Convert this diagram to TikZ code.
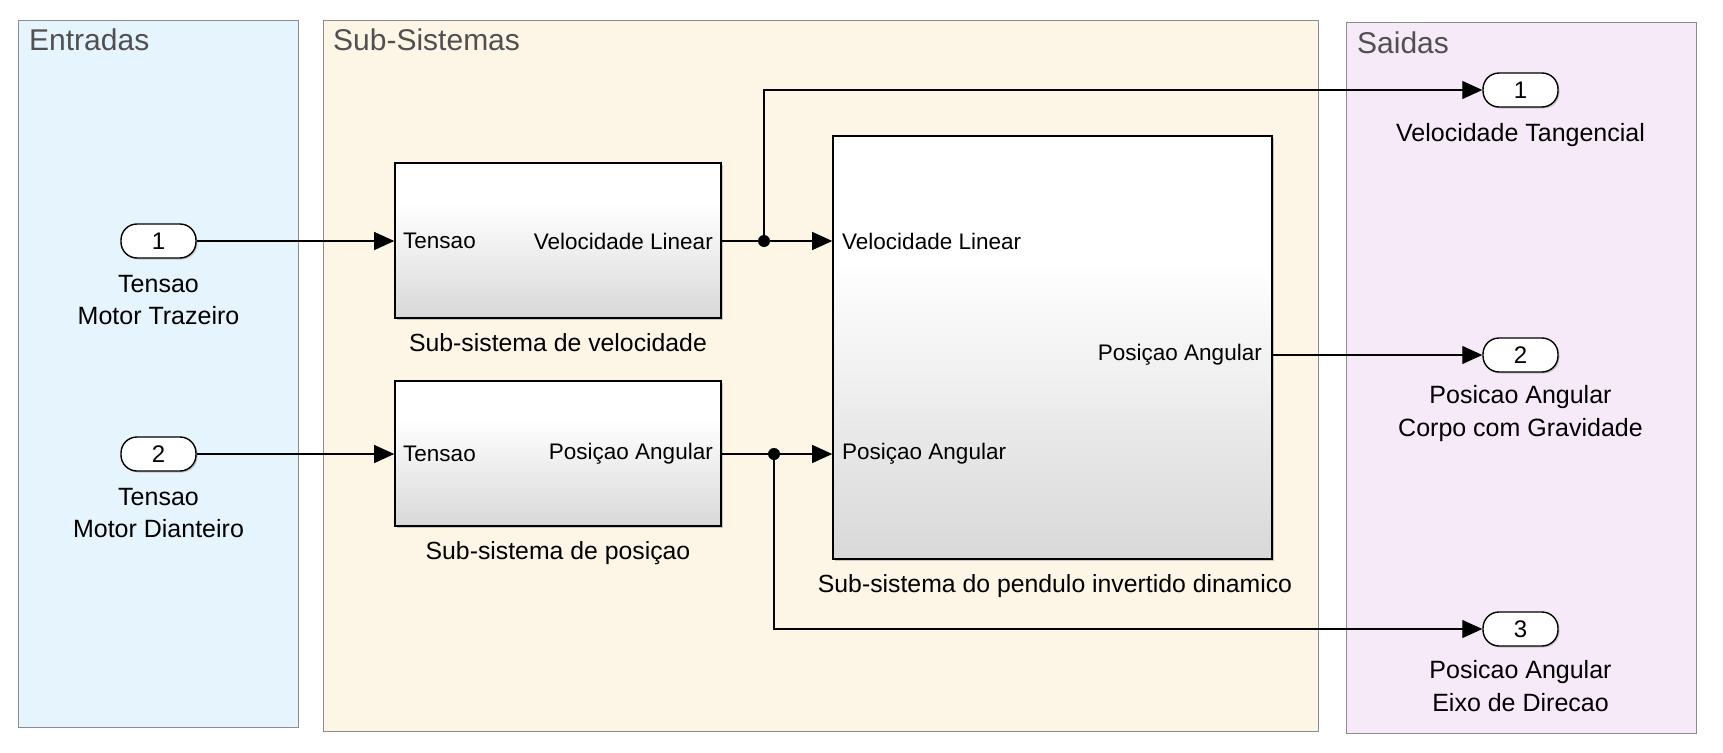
\documentclass[tikz,border=0pt]{standalone}
\usepackage{fontspec}
\setmainfont{Liberation Sans}
\usetikzlibrary{arrows.meta,shadows}
\definecolor{inbg}{RGB}{230,244,254}
\definecolor{subbg}{RGB}{253,246,231}
\definecolor{outbg}{RGB}{246,234,249}
\definecolor{arealine}{RGB}{140,140,140}
\definecolor{titlecol}{RGB}{80,80,80}
\definecolor{blkbot}{RGB}{216,216,216}
\pgfdeclareverticalshading{blkshade}{100bp}{color(0bp)=(blkbot); color(25bp)=(blkbot); color(62bp)=(white); color(100bp)=(white)}
\pgfdeclareverticalshading{bigshade}{100bp}{color(0bp)=(blkbot); color(25bp)=(blkbot); color(60bp)=(white); color(100bp)=(white)}
\tikzset{
  area/.style={draw=arealine, line width=1pt},
  areatitle/.style={anchor=base west, text=titlecol, font=\fontsize{30}{33}\selectfont, inner sep=0},
  blk/.style={draw=black, line width=1.6pt, shading=blkshade, minimum width=326pt, inner sep=0,
    drop shadow={shadow xshift=2pt, shadow yshift=-2pt, fill=gray!55, opacity=0.8}},
  pill/.style={draw=black, line width=1.4pt, fill=white, rounded corners=16pt, minimum width=75pt, minimum height=34pt, inner sep=0,
    font=\fontsize{24}{27}\selectfont,
    drop shadow={shadow xshift=1.5pt, shadow yshift=-1.5pt, fill=gray!55, opacity=0.8}},
  plab/.style={inner sep=0, font=\fontsize{22.5}{25}\selectfont},
  blkcap/.style={anchor=base, inner sep=0, font=\fontsize{24.8}{27}\selectfont},
  iolab/.style={anchor=base, inner sep=0, font=\fontsize{25}{28}\selectfont},
  sig/.style={line width=1.1pt, -{Triangle[length=20pt, width=18pt]}},
  wire/.style={line width=1.1pt},
  jdot/.style={circle, fill=black, minimum size=12pt, inner sep=0},
}
\begin{document}
\begin{tikzpicture}[x=1pt, y=-1pt]
\useasboundingbox (0,0) rectangle (1723,752);
\fill[white] (0,0) rectangle (1723,752);
% areas
\draw[area, fill=inbg] (18,21) rectangle (298,727);
\draw[area, fill=subbg] (323,21) rectangle (1318,731);
\draw[area, fill=outbg] (1346,23) rectangle (1696,733);
\node[areatitle] (tin) at (29,51) {Entradas};
\node[areatitle] (tsub) at (333,51) {Sub-Sistemas};
\node[areatitle] (tout) at (1357,53) {Saidas};
% blocks
\node[blk, minimum height=155pt] (b1) at (558,240.5) {};
\node[blk, minimum height=145pt] (b2) at (558,453.5) {};
\node[blk, shading=bigshade, minimum width=439pt, minimum height=423pt] (b3) at (1052.5,347.5) {};
% block port labels
\node[plab, anchor=west] (b1i) at (403,241) {Tensao};
\node[plab, anchor=east] (b1o) at (713,241) {Velocidade Linear};
\node[plab, anchor=west] (b2i) at (403,454) {Tensao};
\node[plab, anchor=east] (b2o) at (713,454) {Posiçao Angular};
\node[plab, anchor=west] (b3i1) at (842,241) {Velocidade Linear};
\node[plab, anchor=west] (b3i2) at (842,454) {Posiçao Angular};
\node[plab, anchor=east] (b3o) at (1262,355) {Posiçao Angular};
% captions
\node[blkcap] (c1) at (558,351) {Sub-sistema de velocidade};
\node[blkcap] (c2) at (558,559) {Sub-sistema de posiçao};
\node[blkcap] (c3) at (1055,592) {Sub-sistema do pendulo invertido dinamico};
% inports
\node[pill] (in1) at (158.5,241) {1};
\node[pill] (in2) at (158.5,454) {2};
\node[iolab] (l11) at (158.5,292) {Tensao};
\node[iolab] (l12) at (158.5,324) {Motor Trazeiro};
\node[iolab] (l21) at (158.5,505) {Tensao};
\node[iolab] (l22) at (158.5,537) {Motor Dianteiro};
% outports
\node[pill] (out1) at (1520.5,90) {1};
\node[pill] (out2) at (1520.5,355) {2};
\node[pill] (out3) at (1520.5,629) {3};
\node[iolab] (o11) at (1520.5,141) {Velocidade Tangencial};
\node[iolab] (o21) at (1520.5,403) {Posicao Angular};
\node[iolab] (o22) at (1520.5,436) {Corpo com Gravidade};
\node[iolab] (o31) at (1520.5,678) {Posicao Angular};
\node[iolab] (o32) at (1520.5,711) {Eixo de Direcao};
% junctions
\coordinate (j1) at (764,241);
\coordinate (j2) at (774,454);
% connectors
\draw[sig] (in1.east) -- (b1.west |- in1);
\draw[sig] (in2.east) -- (b2.west |- in2);
\draw[wire] (b1.east |- j1) -- (j1);
\draw[sig] (j1) -- (b3.west |- j1);
\draw[sig] (j1) |- (out1.west);
\draw[wire] (b2.east |- j2) -- (j2);
\draw[sig] (j2) -- (b3.west |- j2);
\draw[sig] (j2) |- (out3.west);
\draw[sig] (b3.east |- out2) -- (out2.west);
\node[jdot] (d1) at (j1) {};
\node[jdot] (d2) at (j2) {};
\end{tikzpicture}
\end{document}
